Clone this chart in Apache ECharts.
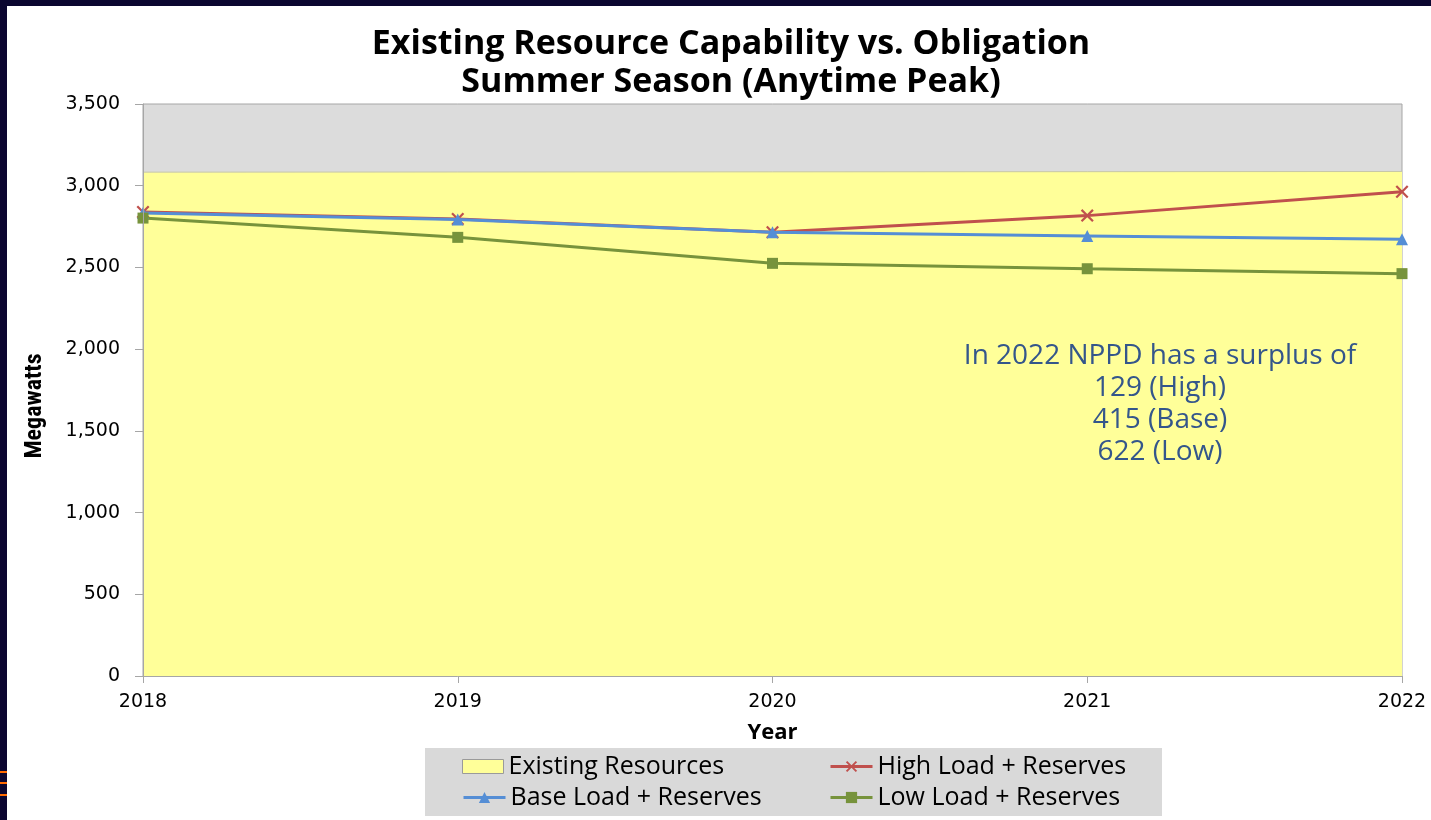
<!DOCTYPE html>
<html>
<head>
<meta charset="utf-8">
<script src="https://cdn.jsdelivr.net/npm/echarts@6/dist/echarts.min.js"></script>
<style>
  html, body { margin: 0; padding: 0; background: #0b0630; }
  #chart { width: 1431px; height: 820px; }
</style>
</head>
<body>
<div id="chart"></div>
<script>
const years = ['2018', '2019', '2020', '2021', '2022'];
const existingResources = [3083, 3084, 3085, 3086, 3087];
const highLoad = [2839, 2796, 2715, 2817, 2963];
const baseLoad = [2833, 2794, 2715, 2692, 2672];
const lowLoad = [2802, 2684, 2525, 2492, 2462];
const yTicks = { min: 0, max: 3500, interval: 500 };
const titleLines = ['Existing Resource Capability vs. Obligation', 'Summer Season (Anytime Peak)'];
const noteLines = ['In 2022 NPPD has a surplus of', '129 (High)', '415 (Base)', '622 (Low)'];
const yAxisTitle = 'Megawatts';
const xAxisTitle = 'Year';

const C_YELLOW = '#ffff99', C_RED = '#c0504d', C_BLUE = '#558ed5', C_GREEN = '#77933c';
const xPath = 'path://M0,1.2 L1.2,0 L5,3.8 L8.8,0 L10,1.2 L6.2,5 L10,8.8 L8.8,10 L5,6.2 L1.2,10 L0,8.8 L3.8,5 Z';
const calibri = '"Open Sans", "Noto Sans", sans-serif';
const verdana = '"DejaVu Sans", Verdana, sans-serif';

const chart = echarts.init(document.getElementById('chart'), null, { renderer: 'canvas' });

function legendItem(name, left, top, extra) {
  return Object.assign({
    data: [name], left: left, top: top, padding: 0,
    itemWidth: 42, itemHeight: 14, itemGap: 0,
    lineStyle: { width: 3 },
    textStyle: { fontFamily: calibri, fontSize: 25, color: '#000' },
    selectedMode: false
  }, extra || {});
}

chart.setOption({
  animation: false,
  backgroundColor: 'transparent',
  title: {
    text: titleLines.join('\n'),
    left: 726, top: 20, textAlign: 'center',
    textStyle: { fontFamily: calibri, fontWeight: 'bold', fontSize: 34, lineHeight: 38, color: '#000' }
  },
  graphic: [
    { type: 'rect', z: -10, shape: { x: 7, y: 6, width: 1424, height: 814 }, style: { fill: '#ffffff' } },
    { type: 'rect', z: -5, shape: { x: 425, y: 748, width: 737, height: 68 }, style: { fill: '#d9d9d9' } },
    { type: 'rect', z: -5, shape: { x: 0, y: 771, width: 7, height: 2 }, style: { fill: '#ff6a00' } },
    { type: 'rect', z: -5, shape: { x: 0, y: 782, width: 7, height: 2 }, style: { fill: '#ff6a00' } },
    { type: 'rect', z: -5, shape: { x: 0, y: 794, width: 7, height: 2 }, style: { fill: '#ff6a00' } },
    {
      type: 'text', x: 1160, y: 340, z: 10,
      style: {
        text: noteLines.join('\n'), align: 'center', verticalAlign: 'top',
        fontFamily: calibri, fontSize: 28, lineHeight: 32, fill: '#34568b'
      }
    },
    {
      type: 'text', x: 35, y: 406, rotation: Math.PI / 2, z: 10,
      style: {
        text: yAxisTitle, align: 'center', verticalAlign: 'middle',
        fontFamily: '"Liberation Sans Narrow", "Roboto Condensed", "Liberation Sans", sans-serif',
        fontWeight: 'bold', fontSize: 24, fill: '#000'
      }
    }
  ],
  legend: [
    legendItem('Existing Resources', 462, 754, {
      itemWidth: 41, itemHeight: 14,
      data: [{ name: 'Existing Resources', icon: 'rect', itemStyle: { color: C_YELLOW, borderColor: '#9a9a9a', borderWidth: 1 } }]
    }),
    legendItem('High Load + Reserves', 829, 754),
    legendItem('Base Load + Reserves', 462, 785),
    legendItem('Low Load + Reserves', 829, 785)
  ],
  grid: {
    left: 143, right: 29, top: 104, bottom: 144,
    show: true, backgroundColor: '#dcdcdc', borderColor: '#a6a6a6', borderWidth: 1
  },
  xAxis: {
    type: 'category', data: years, boundaryGap: false, z: 5,
    name: xAxisTitle, nameLocation: 'middle', nameGap: 46,
    nameTextStyle: { fontFamily: calibri, fontWeight: 'bold', fontSize: 22, color: '#000' },
    axisLine: { lineStyle: { color: '#a6a6a6', width: 1 } },
    axisTick: { show: true, length: 7, lineStyle: { color: '#a6a6a6' } },
    axisLabel: { fontFamily: verdana, fontSize: 19, color: '#000', margin: 17 },
    splitLine: { show: false }
  },
  yAxis: {
    type: 'value', min: yTicks.min, max: yTicks.max, interval: yTicks.interval, z: 5,
    axisLine: { show: true, lineStyle: { color: '#a6a6a6', width: 1 } },
    axisTick: { show: true, length: 8, lineStyle: { color: '#a6a6a6' } },
    axisLabel: {
      fontFamily: verdana, fontSize: 19, color: '#000', margin: 23,
      formatter: v => v.toLocaleString('en-US')
    },
    splitLine: { show: false }
  },
  series: [
    {
      name: 'Existing Resources', type: 'line', data: existingResources,
      symbol: 'none', lineStyle: { color: '#c8c8a8', width: 1 },
      itemStyle: { color: C_YELLOW },
      areaStyle: { color: C_YELLOW, opacity: 1 }, z: 1
    },
    {
      name: 'High Load + Reserves', type: 'line', data: highLoad,
      symbol: xPath, symbolSize: 13,
      lineStyle: { color: C_RED, width: 3 }, itemStyle: { color: C_RED }, z: 3
    },
    {
      name: 'Base Load + Reserves', type: 'line', data: baseLoad,
      symbol: 'triangle', symbolSize: 12,
      lineStyle: { color: C_BLUE, width: 3 }, itemStyle: { color: C_BLUE }, z: 4
    },
    {
      name: 'Low Load + Reserves', type: 'line', data: lowLoad,
      symbol: 'rect', symbolSize: 11,
      lineStyle: { color: C_GREEN, width: 3 }, itemStyle: { color: C_GREEN }, z: 4
    }
  ]
});
</script>
</body>
</html>
